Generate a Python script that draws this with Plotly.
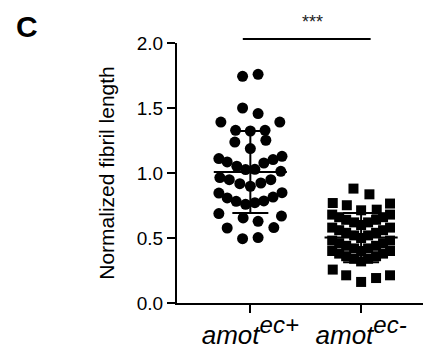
import plotly.graph_objects as go

# ---- data ----
groups = ["amot ec+", "amot ec-"]
group_pos = [0, 1]
base_label = "amot"
sup_labels = ["ec+", "ec-"]

pos_values = [1.744, 1.759, 1.50, 1.457, 1.392, 1.392, 1.328, 1.323, 1.328, 1.238, 1.252, 1.188,
              1.111, 1.085, 1.052, 1.026, 1.028, 1.077, 1.103, 1.128, 1.013,
              0.965, 0.949, 0.918, 0.898, 0.923, 0.949,
              0.846, 0.808, 0.782, 0.759, 0.772, 0.785, 0.815, 0.849,
              0.688, 0.654, 0.628, 0.669, 0.577, 0.58, 0.495, 0.503]
pos_jitter = [-0.07, 0.07, -0.07, 0.07, -0.266, 0.266, -0.133, 0, 0.133, -0.14, 0.14, 0,
              -0.284, -0.209, -0.122, -0.043, 0.041, 0.122, 0.205, 0.286, 0.275,
              -0.275, -0.19, -0.095, 0, 0.095, 0.185,
              -0.284, -0.209, -0.128, -0.043, 0.041, 0.122, 0.205, 0.286,
              -0.284, -0.065, 0.07, 0.281, -0.209, 0.212, -0.07, 0.07]

neg_values = [0.88, 0.836, 0.769, 0.752, 0.713, 0.718, 0.765,
              0.68, 0.66, 0.64, 0.62, 0.60, 0.62, 0.64, 0.66, 0.68,
              0.58, 0.56, 0.54, 0.52, 0.50, 0.52, 0.54, 0.56, 0.58,
              0.48, 0.46, 0.44, 0.42, 0.40, 0.42, 0.44, 0.46, 0.48,
              0.40, 0.38, 0.36, 0.34, 0.32, 0.34, 0.36, 0.38, 0.40,
              0.257, 0.213, 0.162, 0.192, 0.213]
neg_jitter = [-0.069, 0.075, -0.256, -0.129, 0, 0.141, 0.261,
              -0.261, -0.198, -0.135, -0.063, 0, 0.063, 0.135, 0.198, 0.261,
              -0.261, -0.198, -0.135, -0.063, 0, 0.063, 0.135, 0.198, 0.261,
              -0.261, -0.198, -0.135, -0.063, 0, 0.063, 0.135, 0.198, 0.261,
              -0.261, -0.198, -0.135, -0.063, 0, 0.063, 0.135, 0.198, 0.261,
              -0.256, -0.135, 0, 0.135, 0.261]

means = [1.008, 0.503]
sds = [0.315, 0.19]
y_ticks = [0.0, 0.5, 1.0, 1.5, 2.0]
sig_label = "***"
y_title = "Normalized fibril length"
panel_letter = "C"

FONT = "Arial, Liberation Sans, Helvetica, sans-serif"

tick_labels = ["<i>%s</i><sup><i><span style='font-size:24px'>%s</span></i></sup>" % (base_label, s)
               for s in sup_labels]

fig = go.Figure()

fig.add_trace(go.Scatter(
    x=[group_pos[0] + d for d in pos_jitter], y=pos_values, mode="markers",
    marker=dict(symbol="circle", size=11, color="black"), showlegend=False, cliponaxis=False))
fig.add_trace(go.Scatter(
    x=[group_pos[1] + d for d in neg_jitter], y=neg_values, mode="markers",
    marker=dict(symbol="square", size=10, color="black"), showlegend=False, cliponaxis=False))

half = 0.33
for g, m, s in zip(group_pos, means, sds):
    fig.add_trace(go.Scatter(x=[g - half, g + half], y=[m, m], mode="lines",
                             line=dict(color="black", width=2), showlegend=False))
    fig.add_trace(go.Scatter(x=[g], y=[m], mode="markers", marker=dict(size=1, color="rgba(0,0,0,0)"),
                             error_y=dict(type="data", array=[s], color="black", thickness=2, width=18),
                             showlegend=False))

fig.add_shape(type="line", xref="x", yref="paper", x0=-0.068, x1=1.086, y0=1.0154, y1=1.0154,
              line=dict(color="black", width=2))
fig.add_annotation(x=0.56, xref="x", y=1.079, yref="paper", xanchor="center", yanchor="middle",
                   text=sig_label, showarrow=False, font=dict(size=18, color="#222", family=FONT))
fig.add_annotation(xref="paper", yref="paper", x=(19 - 169) / 259, y=(295 - 18) / 260,
                   xanchor="center", yanchor="middle", text="<b>%s</b>" % panel_letter,
                   showarrow=False, font=dict(size=30, color="black", family=FONT))

fig.update_layout(
    width=431, height=351,
    margin=dict(l=169, r=3, t=35, b=56),
    plot_bgcolor="white", paper_bgcolor="white",
    font=dict(family=FONT, color="black"),
    xaxis=dict(range=[-0.662, 1.676], tickvals=group_pos, ticktext=tick_labels,
               showline=True, linecolor="black", linewidth=2, ticks="outside", ticklen=8,
               tickwidth=2, tickcolor="black", showgrid=False, zeroline=False,
               tickfont=dict(size=26, family=FONT)),
    yaxis=dict(range=[0, 2.0], tickvals=y_ticks, ticktext=["%.1f" % v for v in y_ticks],
               showline=True, linecolor="black", linewidth=2, ticks="outside", ticklen=8,
               tickwidth=2, tickcolor="black", showgrid=False, zeroline=False,
               tickfont=dict(size=19, family=FONT),
               title=dict(text=y_title, font=dict(size=21, family=FONT), standoff=16)),
)

fig.write_html("out.html")
